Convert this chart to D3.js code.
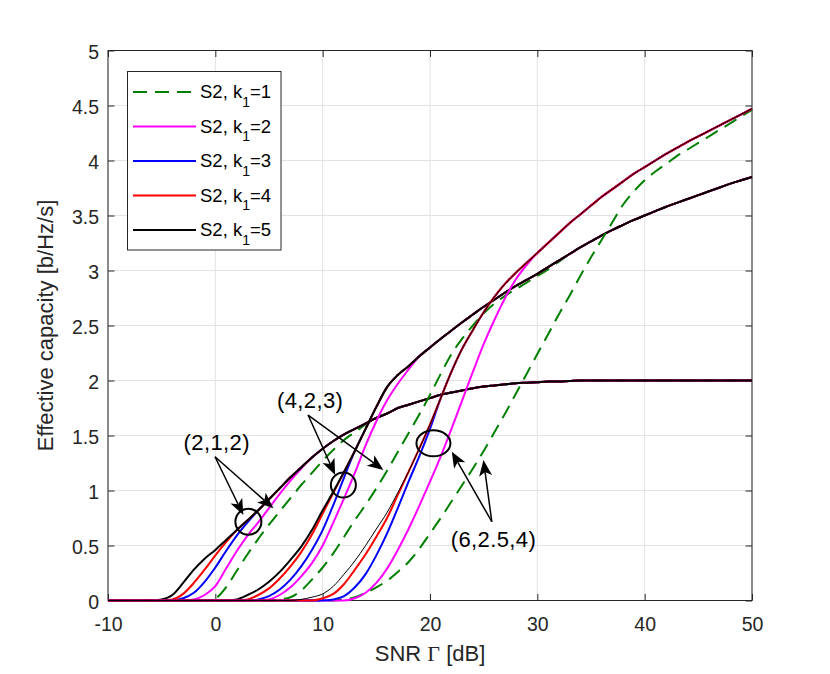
<!DOCTYPE html>
<html>
<head>
<meta charset="utf-8">
<script src="https://cdn.jsdelivr.net/npm/d3@7"></script>
<style>
  body { margin: 0; background: #fff; }
  text { font-family: "Liberation Sans", Arial, Helvetica, sans-serif; }
</style>
</head>
<body>
<div id="chart"></div>
<script>
// SNR grid [dB], shared by every curve
const snr = [
  -10, -9, -8, -7, -6, -5, -4, -3, -2, -1,
  0, 1, 2, 3, 4, 5, 6, 7, 8, 9,
  10, 11, 12, 13, 14, 15, 16, 17, 18, 19,
  20, 21, 22, 23, 24, 25, 26, 27, 28, 29,
  30, 31, 32, 33, 34, 35, 36, 37, 38, 39,
  40, 41, 42, 43, 44, 45, 46, 47, 48, 49,
  50
];

// group (2,1,2)
const g1k1 = [
  0, 0, 0, 0, 0, 0, 0, 0, 0, 0,
  0.02, 0.12, 0.27, 0.42, 0.56, 0.69, 0.81, 0.93, 1.05, 1.16,
  1.27, 1.37, 1.46, 1.53, 1.6, 1.66, 1.7, 1.75, 1.78, 1.81,
  1.84, 1.87, 1.89, 1.91, 1.93, 1.945, 1.955, 1.965, 1.975, 1.98,
  1.985, 1.99, 1.99, 1.995, 2, 2, 2, 2, 2, 2,
  2, 2, 2, 2, 2, 2, 2, 2, 2, 2,
  2
];
const g1k2 = [
  0, 0, 0, 0, 0, 0, 0, 0, 0.01, 0.05,
  0.13, 0.29, 0.45, 0.59, 0.71, 0.84, 0.97, 1.09, 1.2, 1.3,
  1.38, 1.45, 1.51, 1.56, 1.61, 1.66, 1.7, 1.75, 1.78, 1.81,
  1.84, 1.87, 1.89, 1.91, 1.93, 1.945, 1.955, 1.965, 1.975, 1.98,
  1.985, 1.99, 1.99, 1.995, 2, 2, 2, 2, 2, 2,
  2, 2, 2, 2, 2, 2, 2, 2, 2, 2,
  2
];
const g1k3 = [
  0, 0, 0, 0, 0, 0, 0, 0.02, 0.07, 0.17,
  0.3, 0.45, 0.59, 0.71, 0.82, 0.92, 1.02, 1.12, 1.21, 1.3,
  1.38, 1.45, 1.51, 1.56, 1.61, 1.66, 1.7, 1.75, 1.78, 1.81,
  1.84, 1.87, 1.89, 1.91, 1.93, 1.945, 1.955, 1.965, 1.975, 1.98,
  1.985, 1.99, 1.99, 1.995, 2, 2, 2, 2, 2, 2,
  2, 2, 2, 2, 2, 2, 2, 2, 2, 2,
  2
];
const g1k4 = [
  0, 0, 0, 0, 0, 0, 0.01, 0.06, 0.16, 0.28,
  0.41, 0.53, 0.64, 0.73, 0.82, 0.92, 1.02, 1.12, 1.21, 1.3,
  1.38, 1.45, 1.51, 1.56, 1.61, 1.66, 1.7, 1.75, 1.78, 1.81,
  1.84, 1.87, 1.89, 1.91, 1.93, 1.945, 1.955, 1.965, 1.975, 1.98,
  1.985, 1.99, 1.99, 1.995, 2, 2, 2, 2, 2, 2,
  2, 2, 2, 2, 2, 2, 2, 2, 2, 2,
  2
];
const g1k5 = [
  0, 0, 0, 0, 0, 0.01, 0.05, 0.16, 0.28, 0.38,
  0.46, 0.55, 0.64, 0.73, 0.82, 0.92, 1.02, 1.12, 1.21, 1.3,
  1.38, 1.45, 1.51, 1.56, 1.61, 1.66, 1.7, 1.75, 1.78, 1.81,
  1.84, 1.87, 1.89, 1.91, 1.93, 1.945, 1.955, 1.965, 1.975, 1.98,
  1.985, 1.99, 1.99, 1.995, 2, 2, 2, 2, 2, 2,
  2, 2, 2, 2, 2, 2, 2, 2, 2, 2,
  2
];

// group (4,2,3)
const g2k1 = [
  0, 0, 0, 0, 0, 0, 0, 0, 0, 0,
  0, 0, 0, 0, 0, 0, 0.01, 0.03, 0.09, 0.19,
  0.3, 0.43, 0.58, 0.73, 0.87, 1.02, 1.18, 1.35, 1.52, 1.69,
  1.87, 2.06, 2.24, 2.38, 2.5, 2.61, 2.7, 2.77, 2.83, 2.89,
  2.95, 3.01, 3.08, 3.15, 3.21, 3.265, 3.32, 3.37, 3.415, 3.46,
  3.5, 3.54, 3.58, 3.615, 3.65, 3.685, 3.72, 3.755, 3.79, 3.82,
  3.85
];
const g2k2 = [
  0, 0, 0, 0, 0, 0, 0, 0, 0, 0,
  0, 0, 0, 0, 0, 0.01, 0.05, 0.12, 0.22, 0.34,
  0.5, 0.71, 0.93, 1.16, 1.41, 1.63, 1.82, 1.97, 2.1, 2.22,
  2.3, 2.38, 2.455, 2.53, 2.6, 2.67, 2.735, 2.8, 2.86, 2.915,
  2.97, 3.03, 3.09, 3.15, 3.21, 3.265, 3.32, 3.37, 3.415, 3.46,
  3.5, 3.54, 3.58, 3.615, 3.65, 3.685, 3.72, 3.755, 3.79, 3.82,
  3.85
];
const g2k3 = [
  0, 0, 0, 0, 0, 0, 0, 0, 0, 0,
  0, 0, 0, 0, 0.01, 0.04, 0.1, 0.19, 0.31, 0.46,
  0.64, 0.87, 1.12, 1.36, 1.56, 1.76, 1.94, 2.05, 2.13, 2.22,
  2.3, 2.38, 2.455, 2.53, 2.6, 2.67, 2.735, 2.8, 2.86, 2.915,
  2.97, 3.03, 3.09, 3.15, 3.21, 3.265, 3.32, 3.37, 3.415, 3.46,
  3.5, 3.54, 3.58, 3.615, 3.65, 3.685, 3.72, 3.755, 3.79, 3.82,
  3.85
];
const g2k4 = [
  0, 0, 0, 0, 0, 0, 0, 0, 0, 0,
  0, 0, 0, 0.01, 0.05, 0.11, 0.2, 0.31, 0.44, 0.6,
  0.79, 0.98, 1.17, 1.36, 1.56, 1.76, 1.94, 2.05, 2.13, 2.22,
  2.3, 2.38, 2.455, 2.53, 2.6, 2.67, 2.735, 2.8, 2.86, 2.915,
  2.97, 3.03, 3.09, 3.15, 3.21, 3.265, 3.32, 3.37, 3.415, 3.46,
  3.5, 3.54, 3.58, 3.615, 3.65, 3.685, 3.72, 3.755, 3.79, 3.82,
  3.85
];
const g2k5 = [
  0, 0, 0, 0, 0, 0, 0, 0, 0, 0,
  0, 0, 0.01, 0.05, 0.1, 0.17, 0.26, 0.37, 0.49, 0.64,
  0.82, 0.99, 1.17, 1.36, 1.56, 1.76, 1.94, 2.05, 2.13, 2.22,
  2.3, 2.38, 2.455, 2.53, 2.6, 2.67, 2.735, 2.8, 2.86, 2.915,
  2.97, 3.03, 3.09, 3.15, 3.21, 3.265, 3.32, 3.37, 3.415, 3.46,
  3.5, 3.54, 3.58, 3.615, 3.65, 3.685, 3.72, 3.755, 3.79, 3.82,
  3.85
];

// group (6,2.5,4)
const g3k1 = [
  0, 0, 0, 0, 0, 0, 0, 0, 0, 0,
  0, 0, 0, 0, 0, 0, 0, 0, 0, 0,
  0, 0, 0.01, 0.03, 0.07, 0.12, 0.18, 0.26, 0.35, 0.47,
  0.61, 0.75, 0.9, 1.05, 1.2, 1.36, 1.53, 1.7, 1.88, 2.06,
  2.24, 2.42, 2.6, 2.77, 2.95, 3.12, 3.28, 3.44, 3.6, 3.72,
  3.82, 3.9, 3.97, 4.04, 4.1, 4.16, 4.22, 4.28, 4.34, 4.4,
  4.46
];
const g3k2 = [
  0, 0, 0, 0, 0, 0, 0, 0, 0, 0,
  0, 0, 0, 0, 0, 0, 0, 0, 0, 0,
  0, 0, 0, 0.02, 0.07, 0.16, 0.29, 0.46, 0.65, 0.86,
  1.08, 1.31, 1.56, 1.82, 2.08, 2.33, 2.55, 2.75, 2.92, 3.05,
  3.16, 3.25, 3.34, 3.43, 3.51, 3.59, 3.67, 3.74, 3.81, 3.88,
  3.94, 4.0, 4.06, 4.115, 4.17, 4.22, 4.27, 4.32, 4.37, 4.42,
  4.47
];
const g3k3 = [
  0, 0, 0, 0, 0, 0, 0, 0, 0, 0,
  0, 0, 0, 0, 0, 0, 0, 0, 0, 0,
  0, 0.01, 0.04, 0.12, 0.24, 0.41, 0.61, 0.84, 1.08, 1.31,
  1.56, 1.84, 2.08, 2.29, 2.46, 2.62, 2.76, 2.88, 2.98, 3.07,
  3.16, 3.25, 3.34, 3.43, 3.51, 3.59, 3.67, 3.74, 3.81, 3.88,
  3.94, 4.0, 4.06, 4.115, 4.17, 4.22, 4.27, 4.32, 4.37, 4.42,
  4.47
];
const g3k4 = [
  0, 0, 0, 0, 0, 0, 0, 0, 0, 0,
  0, 0, 0, 0, 0, 0, 0, 0, 0, 0,
  0.02, 0.06, 0.15, 0.28, 0.42, 0.58, 0.75, 0.96, 1.17, 1.38,
  1.6, 1.84, 2.08, 2.29, 2.46, 2.62, 2.76, 2.88, 2.98, 3.07,
  3.16, 3.25, 3.34, 3.43, 3.51, 3.59, 3.67, 3.74, 3.81, 3.88,
  3.94, 4.0, 4.06, 4.115, 4.17, 4.22, 4.27, 4.32, 4.37, 4.42,
  4.47
];
const g3k5 = [
  0, 0, 0, 0, 0, 0, 0, 0, 0, 0,
  0, 0, 0, 0, 0, 0, 0, 0, 0.01, 0.03,
  0.06, 0.13, 0.24, 0.36, 0.5, 0.65, 0.8, 0.98, 1.17, 1.38,
  1.6, 1.84, 2.08, 2.29, 2.46, 2.62, 2.76, 2.88, 2.98, 3.07,
  3.16, 3.25, 3.34, 3.43, 3.51, 3.59, 3.67, 3.74, 3.81, 3.88,
  3.94, 4.0, 4.06, 4.115, 4.17, 4.22, 4.27, 4.32, 4.37, 4.42,
  4.47
];

const groups = [
  [g1k1, g1k2, g1k3, g1k4, g1k5],
  [g2k1, g2k2, g2k3, g2k4, g2k5],
  [g3k1, g3k2, g3k3, g3k4, g3k5]
];

const kValues = ["1", "2", "3", "4", "5"];
const xTicks = [-10, 0, 10, 20, 30, 40, 50];
const xTickLabels = ["-10", "0", "10", "20", "30", "40", "50"];
const yTicks = [0, 0.5, 1, 1.5, 2, 2.5, 3, 3.5, 4, 4.5, 5];
const yTickLabels = ["0", "0.5", "1", "1.5", "2", "2.5", "3", "3.5", "4", "4.5", "5"];

// annotations, in data units
const noteLabels = ["(2,1,2)", "(4,2,3)", "(6,2.5,4)"];
const noteTextAt = [[0.13, 1.368], [8.83, 1.747], [25.91, 0.486]];
const noteTails = [[-0.03, 1.307], [8.64, 1.686], [25.76, 0.716]];
const noteTips = [
  [[2.61, 0.777], [5.41, 0.838]],
  [[11.16, 1.141], [15.66, 1.186]],
  [[22.03, 1.353], [24.98, 1.277]]
];
const noteRings = [[3.08, 0.716], [11.93, 1.05], [20.32, 1.429]];

// styles
const kColors = ["#008000", "#ff00ff", "#0000ff", "#ff0000", "#000000"];
const kDash = ["14,8", null, null, null, null];
const ringRadii = [[13, 13], [12.5, 12.5], [17, 13]];
const axisColor = "#262626";

const width = 830, height = 674;
const margin = {top: 50.5, right: 78, bottom: 73.5, left: 108};

const svg = d3.select("#chart").append("svg")
    .attr("width", width)
    .attr("height", height);

svg.append("rect").attr("width", width).attr("height", height).attr("fill", "#fff");

const xScale = d3.scaleLinear()
    .domain([-10, 50])
    .range([margin.left, width - margin.right]);
const yScale = d3.scaleLinear()
    .domain([0, 5])
    .range([height - margin.bottom, margin.top]);

const x0 = xScale.range()[0], x1 = xScale.range()[1];
const yb = yScale.range()[0], yt = yScale.range()[1];

// grid
const grid = svg.append("g").attr("stroke", "#e3e3e3").attr("stroke-width", 1);
grid.selectAll(".gx").data(xTicks).join("line")
    .attr("x1", d => xScale(d)).attr("x2", d => xScale(d))
    .attr("y1", yt).attr("y2", yb);
grid.selectAll(".gy").data(yTicks).join("line")
    .attr("y1", d => yScale(d)).attr("y2", d => yScale(d))
    .attr("x1", x0).attr("x2", x1);

// axes (drawn below the data, like the original)
const tickLen = 6.5;
const styleAxis = g => {
    g.select(".domain").remove();
    g.selectAll(".tick line").attr("stroke", axisColor);
    g.selectAll(".tick text")
        .attr("fill", axisColor)
        .style("font-size", "19.5px");
};

svg.append("g")
    .attr("transform", "translate(0," + yb + ")")
    .call(d3.axisBottom(xScale).tickValues(xTicks).tickSizeInner(-tickLen).tickSizeOuter(0).tickPadding(16.5)
        .tickFormat((d, i) => xTickLabels[i]))
    .call(styleAxis);
svg.append("g")
    .attr("transform", "translate(0," + yt + ")")
    .call(d3.axisTop(xScale).tickValues(xTicks).tickSizeInner(-tickLen).tickSizeOuter(0).tickFormat(""))
    .call(styleAxis);
svg.append("g")
    .attr("transform", "translate(" + x0 + ",0)")
    .call(d3.axisLeft(yScale).tickValues(yTicks).tickSizeInner(-tickLen).tickSizeOuter(0).tickPadding(9)
        .tickFormat((d, i) => yTickLabels[i]))
    .call(styleAxis)
    .call(g => g.selectAll(".tick text").attr("dy", "0.42em"));
svg.append("g")
    .attr("transform", "translate(" + x1 + ",0)")
    .call(d3.axisRight(yScale).tickValues(yTicks).tickSizeInner(-tickLen).tickSizeOuter(0).tickFormat(""))
    .call(styleAxis);

svg.append("rect")
    .attr("x", x0).attr("y", yt)
    .attr("width", x1 - x0).attr("height", yb - yt)
    .attr("fill", "none")
    .attr("stroke", axisColor)
    .attr("stroke-width", 1);

// axis labels
const xLabel = svg.append("text")
    .attr("x", (x0 + x1) / 2)
    .attr("y", yb + 60.5)
    .attr("text-anchor", "middle")
    .attr("fill", axisColor)
    .style("font-size", "22px");
xLabel.append("tspan").text("SNR ");
xLabel.append("tspan").style("font-family", "'Liberation Serif', 'DejaVu Serif', serif").text("\u0393");
xLabel.append("tspan").text(" [dB]");

svg.append("text")
    .attr("transform", "translate(53," + ((yt + yb) / 2) + ") rotate(-90)")
    .attr("text-anchor", "middle")
    .attr("fill", axisColor)
    .style("font-size", "22px")
    .text("Effective capacity [b/Hz/s]");

// curves
const lineFunction = d3.line()
    .x((d, i) => xScale(snr[i]))
    .y(d => yScale(d))
    .curve(d3.curveMonotoneX);

groups.forEach((grp, gi) => {
    grp.forEach((vals, ki) => {
        const thin = gi === 2 && ki === 4;
        svg.append("path")
            .datum(vals)
            .attr("d", lineFunction)
            .attr("fill", "none")
            .attr("stroke", kColors[ki])
            .attr("stroke-width", thin ? 1 : 2)
            .attr("stroke-linejoin", "round")
            .attr("stroke-dasharray", kDash[ki]);
    });
});

// annotations
const notes = svg.append("g");
noteLabels.forEach((label, i) => {
    notes.append("text")
        .attr("x", xScale(noteTextAt[i][0]))
        .attr("y", yScale(noteTextAt[i][1]))
        .attr("text-anchor", "middle")
        .attr("fill", "#000")
        .style("font-size", "22px")
        .style("letter-spacing", "0.4px")
        .text(label);

    notes.append("ellipse")
        .attr("cx", xScale(noteRings[i][0]))
        .attr("cy", yScale(noteRings[i][1]))
        .attr("rx", ringRadii[i][0])
        .attr("ry", ringRadii[i][1])
        .attr("fill", "none")
        .attr("stroke", "#000")
        .attr("stroke-width", 2);

    const tx = xScale(noteTails[i][0]), ty = yScale(noteTails[i][1]);
    noteTips[i].forEach(tip => {
        const px = xScale(tip[0]), py = yScale(tip[1]);
        const len = Math.hypot(px - tx, py - ty);
        const ux = (px - tx) / len, uy = (py - ty) / len;
        const nx = -uy, ny = ux;
        const headL = 16, headW = 6.5, notch = 4;
        notes.append("line")
            .attr("x1", tx).attr("y1", ty)
            .attr("x2", px - ux * (headL - notch)).attr("y2", py - uy * (headL - notch))
            .attr("stroke", "#000")
            .attr("stroke-width", 1.5);
        const head = [
            [px, py],
            [px - ux * headL + nx * headW, py - uy * headL + ny * headW],
            [px - ux * (headL - notch), py - uy * (headL - notch)],
            [px - ux * headL - nx * headW, py - uy * headL - ny * headW]
        ];
        notes.append("path")
            .attr("d", "M" + head.map(p => p.join(",")).join("L") + "Z")
            .attr("fill", "#000");
    });
});

// legend
const legend = svg.append("g").attr("transform", "translate(127.5,71.5)");
legend.append("rect")
    .attr("width", 153.5)
    .attr("height", 178.5)
    .attr("fill", "#fff")
    .attr("stroke", axisColor)
    .attr("stroke-width", 1);

kValues.forEach((k, i) => {
    const row = legend.append("g").attr("transform", "translate(0," + (20.5 + i * 34.5) + ")");
    row.append("line")
        .attr("x1", 5.5).attr("x2", 68.5)
        .attr("stroke", kColors[i])
        .attr("stroke-width", 2)
        .attr("stroke-dasharray", kDash[i]);
    const t = row.append("text")
        .attr("x", 72.5)
        .attr("y", 6.3)
        .attr("fill", "#000")
        .style("font-size", "18.5px");
    t.append("tspan").text("S2, k");
    t.append("tspan").attr("dy", 8.5).style("font-size", "14px").text("1");
    t.append("tspan").attr("dy", -8.5).text("=" + k);
});
</script>
</body>
</html>
